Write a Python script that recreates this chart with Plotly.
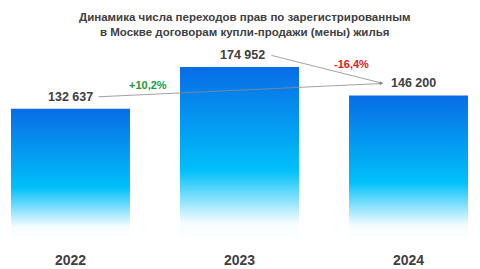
import plotly.graph_objects as go

years = ["2022", "2023", "2024"]
values = [132637, 174952, 146200]
value_labels = ["132 637", "174 952", "146 200"]
title_lines = ["Динамика числа переходов прав по зарегистрированным",
               "в Москве договорам купли-продажи (мены) жилья"]

TXT = "#404040"
FONT = "Liberation Sans, Arial, sans-serif"
HALF = 0.352

fig = go.Figure()
grad = [[0.0, "rgba(255,255,255,1)"], [0.1, "rgb(245,252,255)"], [0.4, "rgb(0,192,250)"],
        [1.0, "rgb(8,108,230)"]]
for i, v in enumerate(values):
    fig.add_trace(go.Scatter(
        x=[i - HALF, i - HALF, i + HALF, i + HALF, i - HALF],
        y=[0, v, v, 0, 0],
        mode="lines", line=dict(width=0), fill="toself",
        fillgradient=dict(type="vertical", colorscale=grad),
        hoverinfo="skip", showlegend=False))

ann = []
for i, (v, t) in enumerate(zip(values, value_labels)):
    ann.append(dict(x=i + (0.02 if i == 1 else 0.03 if i == 2 else 0), y=v, text=f"<b>{t}</b>",
                    showarrow=False, yshift=12, yanchor="middle",
                    font=dict(size=12.5, color=TXT, family=FONT)))

# arrows
head_x = 2 - 0.151
ann.append(dict(x=head_x, y=values[2], ax=0 + 0.157, ay=values[0], xref="x", yref="y",
                axref="x", ayref="y", yshift=12, text="", showarrow=True,
                arrowhead=2, arrowsize=0.8, arrowwidth=0.8, arrowcolor="#8a8a8a"))
ann.append(dict(x=head_x, y=values[2], ax=1 + 0.18, ay=values[1], xref="x", yref="y",
                axref="x", ayref="y", yshift=12, text="", showarrow=True,
                arrowhead=2, arrowsize=0.8, arrowwidth=0.8, arrowcolor="#8a8a8a"))

def pct(a, b):
    p = (b / a - 1) * 100
    return f"{p:+.1f}%".replace(".", ",")

ann.append(dict(x=0.458, y=156700, text=f"<b>{pct(values[0], values[2])}</b>", showarrow=False,
                font=dict(size=11, color="#1e9a3c", family=FONT)))
ann.append(dict(x=1.665, y=178000, text=f"<b>{pct(values[1], values[2])}</b>", showarrow=False,
                font=dict(size=11, color="#e02020", family=FONT)))

ann.append(dict(xref="paper", yref="paper", x=0.51, y=1, xanchor="center", yanchor="top",
                yshift=-9, showarrow=False, align="center",
                text="<b>" + "<br>".join(title_lines) + "</b>",
                font=dict(size=11.5, color=TXT, family=FONT)))

fig.update_layout(
    width=480, height=269,
    margin=dict(l=0, r=0, t=0, b=22),
    paper_bgcolor="white", plot_bgcolor="white",
    annotations=ann,
    xaxis=dict(range=[-0.417, 2.423], tickmode="array", tickvals=[0, 1, 2],
               ticktext=[f"<b>{y}</b>" for y in years], showgrid=False, zeroline=False,
               showline=False, ticks="", tickfont=dict(size=14, color=TXT, family=FONT),
               ticklabelstandoff=3),
    yaxis=dict(range=[-7079, 242700], visible=False, showgrid=False, zeroline=False),
)

fig.write_html("out.html")
